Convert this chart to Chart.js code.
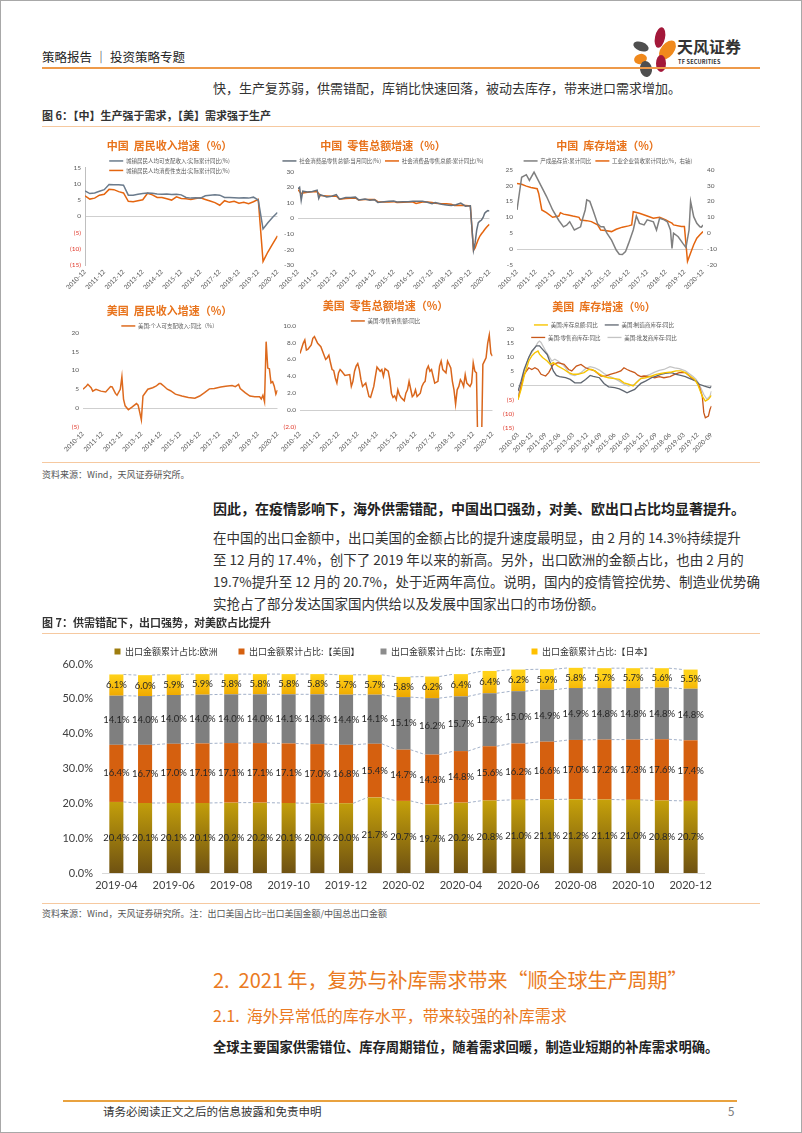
<!DOCTYPE html>
<html lang="zh">
<head>
<meta charset="utf-8">
<title>策略报告 | 投资策略专题</title>
<script src="https://cdn.jsdelivr.net/npm/chart.js@4.4.1/dist/chart.umd.min.js"></script>
<style>
  html, body { margin: 0; padding: 0; background: #fff; }
  #page { position: relative; width: 802px; height: 1133px; overflow: hidden; font-family: "Noto Sans CJK SC", sans-serif; color: #333; }
  #frame { position: absolute; left: 0; top: 0; width: 800px; height: 1131px; border: 1px solid #a8a8a8; pointer-events: none; }
  .t { position: absolute; white-space: nowrap; line-height: 1; z-index: 2; }
  .rule { position: absolute; }
  .box { position: absolute; z-index: 1; }
  .petal { position: absolute; border-radius: 50%; }
  .para { position: absolute; left: 213px; width: 504px; font-size: 13.5px; line-height: 1; color: #333; white-space: nowrap; }
  .just { text-align: justify; text-align-last: justify; }
</style>
</head>
<body>
<div id="page">
  <div id="frame"></div>

  <!-- header -->
  <div class="t" style="left:42px;top:51px;font-size:12.5px;color:#222;">策略报告 ｜ 投资策略专题</div>
  <div class="petal" style="left:655px;top:27px;width:10px;height:21px;background:#a3183a;transform:rotate(12deg);"></div>
  <div class="petal" style="left:661px;top:39px;width:13px;height:22px;background:#f0891c;transform:rotate(38deg);"></div>
  <div class="petal" style="left:633px;top:42px;width:16px;height:9px;background:#4f4f4f;transform:rotate(20deg);"></div>
  <div class="petal" style="left:634px;top:54px;width:13px;height:10px;background:#f0891c;transform:rotate(-15deg);"></div>
  <div class="petal" style="left:656px;top:55px;width:10px;height:17px;background:#a3183a;"></div>
  <div class="petal" style="left:640px;top:61px;width:12px;height:16px;background:#4f4f4f;transform:rotate(-10deg);"></div>
  <div class="t" style="left:677px;top:38px;font-size:16px;font-weight:bold;color:#333;">天风证券</div>
  <div class="t" style="left:678px;top:60px;font-size:5.5px;font-weight:bold;color:#333;letter-spacing:0.2px;">TF SECURITIES</div>
  <div class="rule" style="left:42px;top:67px;width:718px;height:2px;background:#ee9a4a;"></div>

  <div class="t" style="left:213px;top:81px;font-size:13px;color:#333;">快，生产复苏弱，供需错配，库销比快速回落，被动去库存，带来进口需求增加。</div>

  <!-- figure 6 -->
  <div class="t" style="left:42px;top:110px;font-size:11px;font-weight:bold;color:#333;">图 6：【中】生产强于需求，【美】需求强于生产</div>
  <div class="rule" style="left:42px;top:126px;width:718px;height:1px;background:#f6c9a0;"></div>
  <div class="box" style="left:61px;top:136px;width:225px;height:153px;"><canvas id="cA"></canvas></div>
  <div class="box" style="left:276px;top:136px;width:222px;height:153px;"><canvas id="cB"></canvas></div>
  <div class="box" style="left:495px;top:136px;width:226px;height:153px;"><canvas id="cC"></canvas></div>
  <div class="box" style="left:61px;top:301px;width:225px;height:152px;"><canvas id="cD"></canvas></div>
  <div class="box" style="left:278px;top:296px;width:223px;height:157px;"><canvas id="cE"></canvas></div>
  <div class="box" style="left:496px;top:297px;width:224px;height:157px;"><canvas id="cF"></canvas></div>
  <div class="rule" style="left:42px;top:462px;width:718px;height:1px;background:#f6c9a0;"></div>
  <div class="t" style="left:42px;top:470px;font-size:9px;color:#555;">资料来源：Wind，天风证券研究所。</div>

  <!-- text -->
  <div class="t" style="left:213px;top:501px;font-size:14px;font-weight:bold;color:#222;">因此，在疫情影响下，海外供需错配，中国出口强劲，对美、欧出口占比均显著提升。</div>
  <div class="para just" style="top:531px;">在中国的出口金额中，出口美国的金额占比的提升速度最明显，由 2 月的 14.3%持续提升</div>
  <div class="para just" style="top:553px;">至 12 月的 17.4%，创下了 2019 年以来的新高。另外，出口欧洲的金额占比，也由 2 月的</div>
  <div class="para just" style="top:575px;">19.7%提升至 12 月的 20.7%，处于近两年高位。说明，国内的疫情管控优势、制造业优势确</div>
  <div class="para" style="top:597px;">实抢占了部分发达国家国内供给以及发展中国家出口的市场份额。</div>

  <!-- figure 7 -->
  <div class="t" style="left:42px;top:617px;font-size:11px;font-weight:bold;color:#333;">图 7：供需错配下，出口强势，对美欧占比提升</div>
  <div class="rule" style="left:42px;top:633px;width:718px;height:1px;background:#f6c9a0;"></div>
  <div class="box" style="left:58px;top:626px;width:660px;height:269px;"><canvas id="c7"></canvas></div>
  <div class="rule" style="left:42px;top:903px;width:718px;height:1px;background:#f6c9a0;"></div>
  <div class="t" style="left:42px;top:909px;font-size:9px;color:#555;">资料来源：Wind，天风证券研究所。注：出口美国占比=出口美国金额/中国总出口金额</div>

  <div class="t" style="left:213px;top:970px;font-size:20px;color:#ea7a22;">2.&nbsp;&nbsp;2021 年，复苏与补库需求带来“顺全球生产周期”</div>
  <div class="t" style="left:213px;top:1007px;font-size:16px;color:#ea7a22;">2.1.&nbsp;&nbsp;海外异常低的库存水平，带来较强的补库需求</div>
  <div class="t" style="left:213px;top:1040px;font-size:13.3px;font-weight:bold;color:#222;">全球主要国家供需错位、库存周期错位，随着需求回暖，制造业短期的补库需求明确。</div>

  <!-- footer -->
  <div class="rule" style="left:63px;top:1100px;width:674px;height:2px;background:#e9a23f;"></div>
  <div class="t" style="left:103px;top:1106px;font-size:11.5px;color:#333;">请务必阅读正文之后的信息披露和免责申明</div>
  <div class="t" style="left:728px;top:1106px;font-size:11.5px;color:#777;">5</div>
</div>

<script>
// ---------- 图7 数据 ----------
const months = ['2019-04','2019-05','2019-06','2019-07','2019-08','2019-09','2019-10','2019-11','2019-12','2020-01',
                '2020-02','2020-03','2020-04','2020-05','2020-06','2020-07','2020-08','2020-09','2020-10','2020-11','2020-12'];
const shareEurope = [20.4,20.1,20.1,20.1,20.2,20.2,20.1,20.0,20.0,21.7,20.7,19.7,20.2,20.8,21.0,21.1,21.2,21.1,21.0,20.8,20.7];
const shareUS     = [16.4,16.7,17.0,17.1,17.1,17.1,17.1,17.0,16.8,15.4,14.7,14.3,14.8,15.6,16.2,16.6,17.0,17.2,17.3,17.6,17.4];
const shareSEA    = [14.1,14.0,14.0,14.0,14.0,14.0,14.1,14.3,14.4,14.1,15.1,16.2,15.7,15.2,15.0,14.9,14.9,14.8,14.8,14.8,14.8];
const shareJapan  = [6.1,6.0,5.9,5.9,5.8,5.8,5.8,5.8,5.7,5.7,5.8,6.2,6.4,6.4,6.2,5.9,5.8,5.7,5.7,5.6,5.5];
const seriesNames = ['出口金额累计占比:欧洲','出口金额累计占比:【美国】','出口金额累计占比:【东南亚】','出口金额累计占比:【日本】'];
const legendColors = ['#9e7d0e','#d5600f','#8c8c8c','#ffc000'];

// ---------- 图6 数据 [月序号, 数值] ----------
// 中国 居民收入（月序号从 2010-12 起）
const cnIncomeDisp = [[0,7.8],[3,7.0],[6,7.2],[9,7.7],[12,8.2],[15,9.8],[18,9.7],[21,9.7],[24,9.6],[27,6.5],[30,6.5],[33,6.8],[36,7.0],[39,7.2],[42,7.1],[45,6.9],[48,6.8],[51,6.9],[54,6.7],[57,6.8],[60,6.6],[63,5.8],[66,5.6],[69,5.7],[72,5.6],[75,6.3],[78,6.5],[81,6.6],[84,6.5],[87,5.8],[90,5.8],[93,5.7],[96,5.6],[99,5.7],[102,5.6],[105,5.9],[108,5.0],[111,-3.9],[114,-2.0],[117,-0.3],[120,1.2]];
const cnIncomeCons = [[0,6.3],[3,5.3],[6,5.6],[9,6.5],[12,6.8],[15,8.3],[18,8.2],[21,7.6],[24,7.2],[27,4.6],[30,4.5],[33,4.8],[36,5.1],[39,7.1],[42,6.6],[45,5.8],[48,5.8],[51,5.4],[54,5.0],[57,6.0],[60,5.5],[63,5.4],[66,5.2],[69,5.5],[72,5.7],[75,5.2],[78,4.7],[81,4.2],[84,3.4],[87,4.8],[90,4.3],[93,4.6],[96,4.0],[99,4.3],[102,3.9],[105,4.5],[108,5.2],[111,-13.9],[114,-11.0],[117,-8.5],[120,-6.0]];
// 中国 社零
const cnRetailMonth = [[0,19.0],[1,19.9],[2,11.5],[3,17.4],[6,16.9],[9,17.2],[12,18.1],[13,12.8],[14,15.2],[18,13.7],[21,14.2],[24,15.2],[26,12.3],[30,13.3],[33,13.3],[36,13.6],[38,11.8],[42,12.4],[45,11.6],[48,11.9],[50,10.2],[54,10.6],[57,10.9],[60,11.1],[62,10.5],[66,10.6],[69,10.7],[72,10.9],[74,10.9],[78,11.0],[81,10.3],[84,9.4],[86,10.1],[90,9.0],[93,8.6],[96,8.2],[99,8.7],[102,9.8],[105,7.8],[108,8.0],[110,-20.5],[111,-15.8],[112,-7.5],[113,-2.8],[114,-1.8],[115,-1.1],[116,0.5],[117,3.3],[118,4.3],[119,5.0],[120,4.6]];
const cnRetailCum = [[0,18.4],[2,15.8],[3,16.3],[6,16.8],[9,17.0],[12,17.1],[14,14.7],[18,14.4],[21,14.1],[24,14.3],[26,12.3],[30,12.7],[33,12.9],[36,13.1],[38,11.8],[42,12.1],[45,12.0],[48,12.0],[50,10.7],[54,10.4],[57,10.5],[60,10.7],[62,10.2],[66,10.3],[69,10.4],[72,10.4],[74,9.5],[78,10.4],[81,10.4],[84,10.2],[86,9.7],[90,9.4],[93,9.3],[96,9.0],[98,8.2],[102,8.4],[105,8.2],[108,8.0],[110,-20.5],[111,-19.0],[112,-16.2],[113,-13.5],[114,-11.4],[115,-9.9],[116,-8.6],[117,-7.2],[118,-5.9],[119,-4.8],[120,-3.9]];
// 中国 库存
const cnInventory = [[0,12.3],[3,22.6],[6,23.4],[8,21.6],[11,24.2],[19,16.6],[23,12.3],[27,9.0],[30,7.0],[32,7.5],[34,8.6],[37,6.0],[41,7.0],[42,9.0],[44,12.3],[45,15.5],[47,15.0],[49,12.3],[52,8.0],[54,7.0],[56,7.0],[58,5.0],[61,2.8],[64,-0.3],[66,-1.6],[68,-1.7],[70,-0.8],[72,1.8],[75,6.0],[77,10.4],[79,8.1],[82,7.6],[84,9.2],[88,8.6],[90,6.0],[92,9.7],[95,9.2],[97,8.6],[99,6.0],[100,0.2],[101,5.0],[104,3.9],[107,1.8],[109,0.5],[111,6.0],[112,15.0],[114,10.2],[116,8.1],[118,7.0],[119,6.9],[120,7.6]];
const cnRevenue = [[0,31.3],[3,30.8],[6,29.6],[9,28.8],[13,28.0],[14,25.0],[16,14.6],[19,12.9],[23,10.0],[27,10.8],[28,12.9],[30,12.0],[33,11.5],[36,10.8],[40,10.0],[41,8.3],[45,7.9],[48,7.3],[52,5.2],[54,2.0],[57,1.7],[61,1.0],[64,2.5],[68,3.8],[72,4.6],[74,5.2],[75,13.5],[79,12.5],[84,10.8],[88,9.4],[92,10.0],[96,8.3],[98,7.3],[100,6.3],[101,5.2],[106,4.2],[108,4.2],[110,-17.7],[112,-12.5],[114,-7.3],[116,-3.1],[118,-1.0],[120,1.0]];
// 美国 个人可支配收入
const usIncome = [[0,5.0],[2,5.8],[3,6.3],[5,5.4],[6,4.5],[8,5.0],[11,4.5],[14,4.3],[17,5.7],[18,5.6],[20,3.9],[21,3.4],[23,5.0],[24,8.3],[25,2.4],[26,0.6],[28,-0.4],[30,0.2],[33,1.2],[34,0.8],[35,-1.1],[36,-3.1],[37,3.2],[40,5.0],[43,5.4],[45,5.8],[47,6.5],[48,6.5],[50,5.8],[52,5.0],[54,4.6],[57,3.7],[61,3.2],[65,2.8],[69,2.6],[72,3.2],[75,4.1],[78,5.1],[81,5.2],[85,5.6],[88,5.8],[92,6.0],[94,5.7],[96,6.3],[97,5.2],[100,4.1],[103,3.2],[106,3.0],[109,3.0],[110,2.4],[111,3.4],[112,1.7],[113,17.6],[114,10.6],[115,10.4],[116,6.7],[117,7.0],[118,5.8],[119,3.7],[120,4.8]];
// 美国 零售
const usRetail = [[0,6.7],[2,7.9],[3,8.3],[4,7.1],[5,7.2],[7,7.7],[8,8.5],[9,8.7],[11,7.9],[13,7.5],[16,6.0],[17,6.2],[18,6.5],[19,5.6],[20,4.8],[21,4.7],[22,3.8],[23,3.2],[24,4.4],[25,4.8],[26,4.6],[28,4.1],[31,4.2],[32,2.8],[33,3.4],[34,4.6],[35,5.2],[36,5.5],[37,4.8],[38,3.6],[39,2.8],[41,3.2],[42,2.4],[43,1.6],[44,1.5],[46,2.8],[47,4.0],[48,5.1],[50,4.6],[51,4.8],[52,4.0],[53,4.9],[55,4.6],[56,3.6],[57,2.0],[58,1.5],[59,1.7],[60,1.25],[61,2.4],[62,1.8],[63,1.5],[64,1.3],[65,1.1],[66,2.0],[67,2.4],[68,3.4],[69,2.5],[70,1.6],[71,1.8],[72,2.4],[73,1.6],[75,2.0],[76,2.8],[77,3.2],[78,3.4],[79,4.8],[80,5.2],[81,4.6],[82,4.8],[83,4.0],[84,3.2],[86,3.4],[87,5.2],[88,5.8],[89,4.8],[91,4.4],[92,5.8],[93,5.4],[94,5.0],[95,3.4],[96,2.4],[97,0.7],[98,2.4],[99,2.8],[100,3.6],[101,3.3],[102,2.8],[103,4.2],[104,3.2],[106,2.8],[107,3.2],[108,5.6],[109,4.6],[110,4.4],[111,-6.0],[112,-20.0],[113,-6.0],[114,5.4],[115,5.8],[116,6.2],[117,7.9],[118,8.9],[119,6.7],[120,6.4]];
// 美国 库存（月序号从 2010-03 起）
const usInvTotal = [[0,-5.0],[2,-1.4],[4,3.3],[7,8.6],[9,10.4],[11,11.5],[13,12.1],[14,11.0],[16,9.8],[19,8.6],[21,7.4],[23,8.0],[26,6.8],[30,5.6],[33,4.5],[36,3.9],[39,3.9],[43,4.5],[46,5.6],[48,5.6],[50,5.1],[53,4.0],[56,3.1],[59,2.7],[63,2.4],[66,2.1],[69,0.9],[72,0.4],[75,-0.2],[77,0.9],[80,2.4],[83,2.7],[87,3.3],[90,3.9],[93,4.2],[96,4.5],[100,4.7],[103,5.1],[106,5.1],[109,4.5],[112,3.3],[115,2.1],[117,0.4],[120,-3.8],[122,-5.5],[124,-4.9],[126,-3.5]];
const usInvMfg = [[0,-2.0],[2,1.5],[4,5.6],[7,9.8],[9,12.1],[12,13.9],[14,13.9],[16,12.7],[19,10.9],[21,8.0],[23,5.1],[25,3.5],[27,3.1],[31,2.7],[34,2.1],[37,0.9],[41,0.9],[44,2.1],[47,3.5],[49,3.2],[53,2.7],[56,0.7],[59,-0.5],[63,-0.8],[66,-1.2],[69,-2.0],[71,-2.6],[73,-2.1],[76,-1.4],[78,-0.3],[80,0.7],[83,1.5],[87,2.7],[90,3.3],[93,3.9],[96,4.2],[100,4.5],[103,3.9],[106,3.5],[109,3.1],[112,2.4],[114,1.9],[116,1.5],[118,0.4],[121,-0.2],[123,-0.5],[125,-0.8],[126,-0.3]];
const usInvRetail = [[0,-5.0],[2,-0.2],[4,3.9],[7,6.2],[9,5.6],[11,6.2],[13,5.6],[15,3.9],[18,3.3],[20,4.5],[23,7.4],[26,8.0],[30,7.4],[33,5.6],[35,5.1],[38,6.8],[41,7.4],[44,6.2],[47,5.6],[50,5.1],[54,3.3],[57,3.3],[60,3.9],[64,4.5],[67,5.1],[69,6.2],[71,5.6],[73,5.1],[76,4.5],[78,3.6],[80,3.1],[82,3.3],[86,3.1],[89,2.7],[92,3.1],[95,2.7],[99,3.1],[102,3.9],[105,4.5],[109,4.5],[112,3.1],[114,2.1],[116,1.5],[118,-0.2],[120,-3.8],[121,-9.6],[122,-11.4],[124,-10.8],[125,-8.5],[126,-7.3]];
const usInvWhole = [[0,-3.8],[2,0.4],[4,5.1],[7,9.8],[9,11.5],[11,13.3],[13,15.1],[14,15.6],[15,15.1],[18,12.1],[20,10.4],[22,8.6],[24,9.2],[26,8.6],[29,7.4],[31,6.2],[34,3.9],[37,3.5],[41,4.5],[44,5.9],[47,6.6],[50,6.2],[53,5.4],[56,4.2],[59,3.3],[63,2.4],[66,1.5],[69,0.4],[72,-0.2],[76,0.4],[79,2.1],[82,3.1],[86,3.9],[89,4.7],[92,5.3],[95,5.6],[99,6.6],[102,6.2],[105,5.9],[109,5.1],[112,3.9],[114,3.1],[116,2.1],[118,0.4],[121,-3.2],[123,-4.9],[125,-3.8],[126,-2.0]];

const CJK = '"Noto Sans CJK SC", sans-serif';
Chart.defaults.font.family = 'Lato, "Noto Sans CJK SC", sans-serif';
Chart.defaults.animation = false;

// legend box gets a fixed height (so the plot lands where it should) and is drawn without clipping
fixLegend = function (h) {
    return {
        id: 'fixLegend',
        beforeInit: function (chart) {
            const legend = chart.legend;
            const fit = legend.fit;
            legend.fit = function () {
                fit.call(this);
                this.height = h;
            };
            legend.draw = function () {
                if (this.options.display) this._draw();
            };
        }
    };
}

yearLabel = function (v) { return (2010 + v / 12) + '-12'; }
quarterLabel = function (v) {
    const t = 2 + v;
    return (2010 + Math.floor(t / 12)) + '-' + String(t % 12 + 1).padStart(2, '0');
}
paren = function (v) { return v < 0 ? '(' + Math.abs(v) + ')' : '' + v; }
paren1 = function (v) { return v < 0 ? '(' + Math.abs(v).toFixed(1) + ')' : v.toFixed(1); }

smallChart = function (id, c) {
    const datasets = c.series.map(function (s) {
        return {
            label: s.label,
            data: s.points.map(function (p) { return { x: p[0], y: p[1] }; }),
            borderColor: s.color,
            backgroundColor: s.color,
            borderWidth: s.width || 1.5,
            pointRadius: 0,
            tension: 0,
            yAxisID: s.axis || 'y'
        };
    });
    const tickFont = { size: 6.5 };
    const scales = {
        x: {
            type: 'linear', min: c.xMin, max: c.xMax,
            grid: { display: false, drawTicks: false }, border: { display: false },
            ticks: { stepSize: c.xStep, maxTicksLimit: 30, autoSkip: false, minRotation: 45, maxRotation: 45,
                     padding: 3, font: tickFont, color: '#595959', callback: c.xLabel },
            afterFit: function (s) { s.height = c.hx; }
        },
        y: {
            min: c.yMin, max: c.yMax,
            grid: { color: function (ctx) { return ctx.tick.value === 0 ? '#cfcfcf' : 'rgba(0,0,0,0)'; }, drawTicks: false },
            border: { display: !!c.yLine, color: '#bfbfbf' },
            ticks: { stepSize: c.yStep, padding: 4, font: tickFont,
                     color: function (ctx) { return (c.redNeg && ctx.tick.value < 0) ? '#e0392b' : '#595959'; },
                     callback: c.yFmt },
            afterFit: function (s) { s.width = c.wy; }
        }
    };
    if (c.y1) {
        scales.y1 = {
            position: 'right', min: c.y1.min, max: c.y1.max,
            grid: { display: false, drawTicks: false }, border: { display: false },
            ticks: { stepSize: c.y1.step, padding: 4, font: tickFont, color: '#595959' },
            afterFit: function (s) { s.width = c.y1.w; }
        };
    }
    new Chart(document.getElementById(id), {
        type: 'line',
        data: { datasets: datasets },
        options: {
            responsive: true, maintainAspectRatio: false,
            layout: { padding: { right: c.pr || 0 } },
            plugins: {
                title: { display: true, text: c.title, color: '#e8731c',
                         font: { size: 11, weight: 'bold', family: CJK }, padding: { top: 3, bottom: 2 } },
                legend: {
                    position: 'top',
                    labels: { usePointStyle: true, pointStyle: 'line', pointStyleWidth: 14, boxHeight: 5,
                              padding: c.legPad || 4, font: { size: 5.5, family: CJK }, color: '#595959' }
                },
                tooltip: { enabled: false }
            },
            scales: scales
        },
        plugins: [fixLegend(c.legendH)]
    });
}

const ORANGE = '#e4650f';

smallChart('cA', {
    title: '中国  居民收入增速（%）',
    series: [
        { label: '城镇居民人均可支配收入:实际累计同比(%)', points: cnIncomeDisp, color: '#6b7b8c' },
        { label: '城镇居民人均消费性支出:实际累计同比(%)', points: cnIncomeCons, color: ORANGE }
    ],
    xMin: 0, xMax: 120, xStep: 12, xLabel: yearLabel,
    yMin: -15, yMax: 15, yStep: 5, yFmt: paren, redNeg: true, yLine: true,
    wy: 24, hx: 24, pr: 8, legendH: 13.4
});

smallChart('cB', {
    title: '中国  零售总额增速（%）',
    series: [
        { label: '社会消费品零售总额:当月同比(%)', points: cnRetailMonth, color: '#66717d' },
        { label: '社会消费品零售总额:累计同比(%)', points: cnRetailCum, color: ORANGE }
    ],
    xMin: 0, xMax: 120, xStep: 12, xLabel: yearLabel,
    yMin: -30, yMax: 30, yStep: 10, yFmt: function (v) { return '' + v; },
    wy: 22, hx: 24, pr: 8, legendH: 17.4
});

smallChart('cC', {
    title: '中国  库存增速（%）',
    series: [
        { label: '产成品存货:累计同比', points: cnInventory, color: '#7f7f7f' },
        { label: '工业企业营收累计同比(%，右轴)', points: cnRevenue, color: ORANGE, axis: 'y1' }
    ],
    xMin: 0, xMax: 120, xStep: 12, xLabel: yearLabel,
    yMin: -5, yMax: 25, yStep: 5, yFmt: function (v) { return '' + v; },
    y1: { min: -20, max: 40, step: 10, w: 18 },
    wy: 22, hx: 24, legendH: 15.4
});

smallChart('cD', {
    title: '美国  居民收入增速（%）',
    series: [
        { label: '美国:个人可支配收入:同比（%）', points: usIncome, color: '#dd6a1e' }
    ],
    xMin: 0, xMax: 120, xStep: 12, xLabel: yearLabel,
    yMin: -5, yMax: 20, yStep: 5, yFmt: paren, redNeg: true,
    wy: 22, hx: 26, pr: 8, legendH: 13.4
});

smallChart('cE', {
    title: '美国  零售总额增速（%）',
    series: [
        { label: '美国:零售销售额:同比', points: usRetail, color: '#d9661c' }
    ],
    xMin: 0, xMax: 120, xStep: 12, xLabel: yearLabel,
    yMin: -2, yMax: 10, yStep: 2, yFmt: paren1, redNeg: true,
    wy: 22, hx: 26, pr: 8, legendH: 11.4
});

smallChart('cF', {
    title: '美国  库存增速（%）',
    series: [
        { label: '美国:库存总额:同比', points: usInvTotal, color: '#f7c400', width: 1.4 },
        { label: '美国:制造商库存:同比', points: usInvMfg, color: '#5f6670', width: 1.3 },
        { label: '美国:零售商库存:同比', points: usInvRetail, color: '#c8581a', width: 1.3 },
        { label: '美国:批发商库存:同比', points: usInvWhole, color: '#c4c4c4', width: 1.3 }
    ],
    xMin: 0, xMax: 126, xStep: 9, xLabel: quarterLabel,
    yMin: -15, yMax: 20, yStep: 5, yFmt: paren, redNeg: true,
    wy: 22, hx: 26, pr: 8, legendH: 13.4, legPad: 7
});

// ---------- 图7 ----------
vGrad = function (topColor, bottomColor, vTop, vBottom) {
    return function (ctx) {
        const chart = ctx.chart;
        if (!chart.chartArea) return bottomColor;
        const y = chart.scales.y;
        const g = chart.ctx.createLinearGradient(0, y.getPixelForValue(vTop), 0, y.getPixelForValue(vBottom));
        g.addColorStop(0, topColor);
        g.addColorStop(1, bottomColor);
        return g;
    };
}

const seriesLines = {
    id: 'seriesLines',
    beforeDatasetsDraw: function (chart) {
        const ctx = chart.ctx;
        ctx.save();
        ctx.strokeStyle = '#a3b1c8';
        ctx.lineWidth = 1;
        ctx.setLineDash([3, 2]);
        chart.data.datasets.forEach(function (ds, di) {
            const bars = chart.getDatasetMeta(di).data;
            for (let i = 0; i < bars.length - 1; i++) {
                ctx.beginPath();
                ctx.moveTo(bars[i].x + bars[i].width / 2, bars[i].y);
                ctx.lineTo(bars[i + 1].x - bars[i + 1].width / 2, bars[i + 1].y);
                ctx.stroke();
            }
        });
        ctx.restore();
    }
};

const barLabels = {
    id: 'barLabels',
    afterDatasetsDraw: function (chart) {
        const ctx = chart.ctx;
        ctx.save();
        ctx.font = '9.5px Lato, "Noto Sans CJK SC"';
        ctx.fillStyle = '#262626';
        ctx.textAlign = 'center';
        ctx.textBaseline = 'middle';
        chart.data.datasets.forEach(function (ds, di) {
            chart.getDatasetMeta(di).data.forEach(function (bar, i) {
                ctx.fillText(ds.data[i].toFixed(1) + '%', bar.x, (bar.y + bar.base) / 2);
            });
        });
        ctx.restore();
    }
};

new Chart(document.getElementById('c7'), {
    type: 'bar',
    data: {
        labels: months,
        datasets: [
            { label: seriesNames[0], data: shareEurope, backgroundColor: vGrad('#c6a10a', '#6f5212', 21, 0) },
            { label: seriesNames[1], data: shareUS, backgroundColor: '#d5600f' },
            { label: seriesNames[2], data: shareSEA, backgroundColor: '#7f7f7f' },
            { label: seriesNames[3], data: shareJapan, backgroundColor: vGrad('#ffd21a', '#f0aa00', 57, 51) }
        ]
    },
    options: {
        responsive: true, maintainAspectRatio: false,
        layout: { padding: { right: 9 } },
        datasets: { bar: { categoryPercentage: 1, barPercentage: 0.49, borderWidth: 0 } },
        plugins: {
            legend: {
                position: 'top',
                labels: {
                    boxWidth: 6, boxHeight: 6, padding: 21, color: '#333',
                    font: { size: 9, family: CJK },
                    generateLabels: function (chart) {
                        return chart.data.datasets.map(function (ds, i) {
                            return { text: ds.label, fillStyle: legendColors[i], strokeStyle: legendColors[i],
                                     lineWidth: 0, datasetIndex: i, hidden: false, fontColor: '#333' };
                        });
                    }
                }
            },
            tooltip: { enabled: false }
        },
        scales: {
            x: {
                stacked: true,
                grid: { display: false, drawTicks: false },
                border: { color: '#d9d9d9' },
                ticks: { autoSkip: false, maxRotation: 0, padding: 6, font: { size: 11 }, color: '#404040',
                         callback: function (v, i) { return i % 2 === 0 ? months[i] : ''; } },
                afterFit: function (s) { s.height = 22; }
            },
            y: {
                stacked: true, min: 0, max: 60,
                grid: { display: false, drawTicks: false },
                border: { display: false },
                ticks: { stepSize: 10, padding: 9, font: { size: 11 }, color: '#404040',
                         callback: function (v) { return v.toFixed(1) + '%'; } },
                afterFit: function (s) { s.width = 44; }
            }
        }
    },
    plugins: [fixLegend(38), seriesLines, barLabels]
});
</script>
</body>
</html>
